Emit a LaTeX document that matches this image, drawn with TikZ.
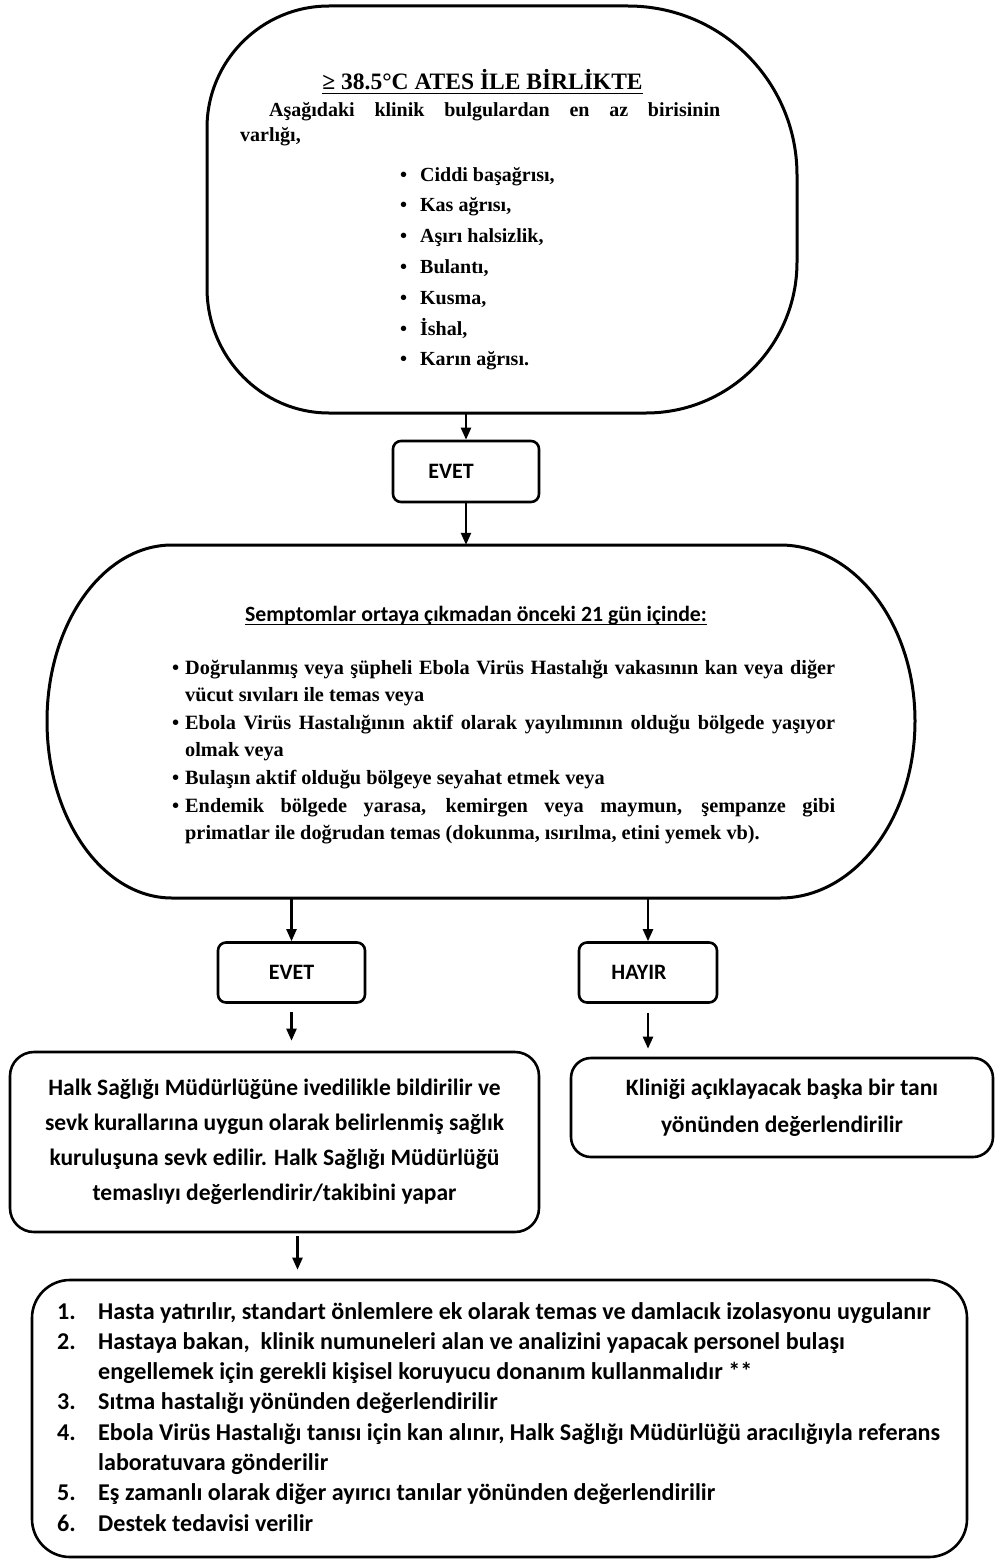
\documentclass[tikz,border=0pt]{standalone}
\usepackage{fontspec}
\setmainfont{Liberation Serif}
\newfontfamily\calib{Carlito}
\usetikzlibrary{arrows.meta,calc}
\tikzset{
  shp/.style={line width=3pt, line join=round},
  inv/.style={draw=none, inner sep=0pt},
  sbox/.style={draw, line width=2.6pt, rounded corners=8pt, inner sep=0pt,
    font=\calib\bfseries\fontsize{22}{26}\selectfont},
  tbox/.style={draw, line width=2.6pt, inner sep=0pt, align=center,
    font=\calib\bfseries\fontsize{23.5}{35}\selectfont},
  arr/.style={line width=2.3pt, -{Triangle[length=12pt,width=10pt]}},
  txt/.style={inner sep=0pt},
  uline/.style={line width=1.6pt}
}
\begin{document}
\begin{tikzpicture}[x=1pt,y=1pt]
\fill[white] (0,0) rectangle (995,-1560);
\useasboundingbox (0,0) rectangle (995,-1560);

% ---- top shape ----
\node[inv, minimum width=590pt, minimum height=407pt] (sym1) at (502,-209.5) {};
\draw[shp] (329,-6) -- (628,-6)
  arc[start angle=90, end angle=0, radius=169] -- (797,-262)
  arc[start angle=0, end angle=-90, radius=151] -- (329,-413)
  arc[start angle=-90, end angle=-180, x radius=122, y radius=125] -- (207,-128)
  arc[start angle=180, end angle=90, radius=122] -- cycle;

\node[txt, anchor=base, font=\bfseries\fontsize{23.5}{28}\selectfont] (title) at (482.5,-90)
  {≥ 38.5°C ATES İLE BİRLİKTE};
\draw[uline] ([yshift=-3.5pt]title.base west) -- ([yshift=-3.5pt]title.base east);
\node[txt, anchor=base west] (intro) at (240,-117)
  {\parbox[t]{480pt}{\fontsize{20}{25}\selectfont\bfseries\hspace*{29pt}Aşağıdaki klinik bulgulardan en az birisinin\linebreak varlığı,}};
\node[txt, anchor=base west] (slist) at (400,-181)
  {\parbox[t]{260pt}{\fontsize{20}{30.8}\selectfont\bfseries
  \makebox[20pt][l]{•}Ciddi başağrısı,\\
  \makebox[20pt][l]{•}Kas ağrısı,\\
  \makebox[20pt][l]{•}Aşırı halsizlik,\\
  \makebox[20pt][l]{•}Bulantı,\\
  \makebox[20pt][l]{•}Kusma,\\
  \makebox[20pt][l]{•}İshal,\\
  \makebox[20pt][l]{•}Karın ağrısı.}};

% ---- EVET 1 ----
\node[sbox, minimum width=146pt, minimum height=61pt] (e1) at (466,-471.5) {EVET\hspace*{30pt}};

% ---- second shape ----
\node[inv, minimum width=868pt, minimum height=353pt] (sym2) at (481,-721.5) {};
\draw[shp] (172,-545) -- (780,-545)
  arc[start angle=90, end angle=0, x radius=135, y radius=176]
  arc[start angle=0, end angle=-90, x radius=135, y radius=177] -- (172,-898)
  arc[start angle=-90, end angle=-180, x radius=125, y radius=177]
  arc[start angle=180, end angle=90, x radius=125, y radius=176] -- cycle;

\node[txt, anchor=base, font=\calib\bfseries\fontsize{21.8}{26}\selectfont] (head) at (476,-621)
  {Semptomlar ortaya çıkmadan önceki 21 gün içinde:};
\draw[uline] ([yshift=-3.5pt]head.base west) -- ([yshift=-3.5pt]head.base east);
\node[txt, anchor=base west] (clist) at (172,-674)
  {\parbox[t]{663pt}{\fontsize{20.3}{27.6}\selectfont\bfseries
  \spaceskip=0.25em plus 0.4em minus 0.12em
  \hangindent=13pt\hangafter=1\makebox[13pt][l]{•}Doğrulanmış veya şüpheli Ebola Virüs Hastalığı vakasının kan veya diğer\linebreak vücut sıvıları ile temas veya\par
  \hangindent=13pt\hangafter=1\makebox[13pt][l]{•}Ebola Virüs Hastalığının aktif olarak yayılımının olduğu bölgede yaşıyor\linebreak olmak veya\par
  \hangindent=13pt\hangafter=1\makebox[13pt][l]{•}Bulaşın aktif olduğu bölgeye seyahat etmek veya\par
  \hangindent=13pt\hangafter=1\makebox[13pt][l]{•}Endemik bölgede yarasa, kemirgen veya maymun, şempanze gibi\linebreak primatlar ile doğrudan temas (dokunma, ısırılma, etini yemek vb).\par}};

% ---- EVET 2 / HAYIR ----
\node[sbox, minimum width=147pt, minimum height=60pt] (e2) at (291.5,-972.5) {EVET};
\node[sbox, minimum width=138pt, minimum height=60pt] (h) at (648,-972.5) {HAYIR\hspace*{18pt}};

% ---- result boxes ----
\node[tbox, rounded corners=24pt, minimum width=529pt, minimum height=180pt] (lbox) at (274.5,-1142)
  {Halk Sağlığı Müdürlüğüne ivedilikle bildirilir ve\\
   sevk kurallarına uygun olarak belirlenmiş sağlık\\
   kuruluşuna sevk edilir. Halk Sağlığı Müdürlüğü\\
   temaslıyı değerlendirir/takibini yapar};
\node[tbox, rounded corners=20pt, minimum width=422pt, minimum height=99pt,
  font=\calib\bfseries\fontsize{23.5}{37}\selectfont] (rbox) at (782,-1107.5)
  {Kliniği açıklayacak başka bir tanı\\ yönünden değerlendirilir};

% ---- bottom box ----
\node[draw, line width=2.6pt, rounded corners=38pt, inner sep=0pt,
  minimum width=935pt, minimum height=277pt] (bbox) at (499.5,-1418.5) {};
\node[txt, anchor=base west] (blist) at (57,-1319)
  {\parbox[t]{900pt}{\calib\bfseries\fontsize{24.1}{30.3}\selectfont\raggedright
  \hangindent=41pt\hangafter=1\makebox[41pt][l]{1.}Hasta yatırılır, standart önlemlere ek olarak temas ve damlacık izolasyonu uygulanır\par
  \hangindent=41pt\hangafter=1\makebox[41pt][l]{2.}Hastaya bakan,\ \ klinik numuneleri alan ve analizini yapacak personel bulaşı\newline engellemek için gerekli kişisel koruyucu donanım kullanmalıdır **\par
  \hangindent=41pt\hangafter=1\makebox[41pt][l]{3.}Sıtma hastalığı yönünden değerlendirilir\par
  \hangindent=41pt\hangafter=1\makebox[41pt][l]{4.}Ebola Virüs Hastalığı tanısı için kan alınır, Halk Sağlığı Müdürlüğü aracılığıyla referans\newline laboratuvara gönderilir\par
  \hangindent=41pt\hangafter=1\makebox[41pt][l]{5.}Eş zamanlı olarak diğer ayırıcı tanılar yönünden değerlendirilir\par
  \hangindent=41pt\hangafter=1\makebox[41pt][l]{6.}Destek tedavisi verilir\par}};

% ---- connectors ----
\draw[arr] (e1.north |- sym1.south) -- (e1.north);
\draw[arr] (e1.south) -- (e1.south |- sym2.north);
\draw[arr] (e2.north |- sym2.south) -- (e2.north);
\draw[arr] (h.north |- sym2.south) -- (h.north);
\draw[arr, shorten <=8pt, shorten >=10pt] (e2.south) -- (e2.south |- lbox.north);
\draw[arr, shorten <=9pt, shorten >=8pt] (h.south) -- (h.south |- rbox.north);
\draw[arr, shorten <=3pt, shorten >=9pt] ([xshift=23pt]lbox.south) -- ([xshift=23pt]lbox.south |- bbox.north);
\end{tikzpicture}
\end{document}
